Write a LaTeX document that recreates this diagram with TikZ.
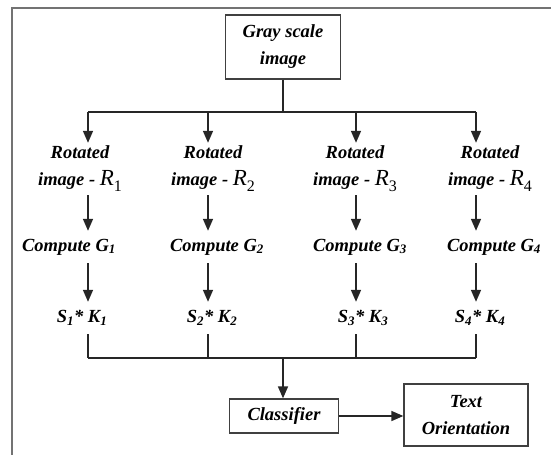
\documentclass[tikz,border=0pt]{standalone}
\usepackage{fontspec}
\setmainfont{Liberation Serif}
\usetikzlibrary{arrows.meta}

\tikzset{
  lbl/.style={font=\bfseries\itshape\fontsize{18.5}{27}\selectfont, inner sep=0pt, align=center},
  blk/.style={lbl, draw=black!75, line width=1.3pt},
  wire/.style={line width=1.6pt, black!85},
  con/.style={wire, -{Triangle[length=12pt,width=10pt]}},
}
\newcommand{\rotR}[1]{{\mdseries\fontsize{23}{23}\selectfont R}\raisebox{-6pt}{\mdseries\upshape\fontsize{16}{16}\selectfont #1}}

\begin{document}
\begin{tikzpicture}[x=1pt,y=1pt,yscale=-1]
\useasboundingbox (0,0) rectangle (551,455);

%Frame
\draw [black!55, line width=1.5pt] (551,8) -- (12,8) -- (12,455);

% Blocks
\node [blk, minimum width=115pt, minimum height=64pt] (gray) at (283,47) {Gray scale\\image};
\node [blk, minimum width=109pt, minimum height=34pt] (cls) at (284,416) {Classifier};
\node [blk, minimum width=124pt, minimum height=62pt] (orient) at (466,415) {Text\\Orientation};

% Text Node
\node [lbl, minimum height=52pt] (rot1) at (80,169) {Rotated\\image - \rotR{1}};
\node [lbl, minimum height=52pt] (rot2) at (213,169) {Rotated\\image - \rotR{2}};
\node [lbl, minimum height=52pt] (rot3) at (355,169) {Rotated\\image - \rotR{3}};
\node [lbl, minimum height=52pt] (rot4) at (490,169) {Rotated\\image - \rotR{4}};
% Text Node
\node [lbl, minimum height=32pt] (comp1) at (69,247) {Compute G\textsubscript{1}};
\node [lbl, minimum height=32pt] (comp2) at (217,247) {Compute G\textsubscript{2}};
\node [lbl, minimum height=32pt] (comp3) at (360,247) {Compute G\textsubscript{3}};
\node [lbl, minimum height=32pt] (comp4) at (494,247) {Compute G\textsubscript{4}};
% Text Node
\node [lbl, minimum height=32pt] (sk1) at (82,318) {S\textsubscript{1}* K\textsubscript{1}};
\node [lbl, minimum height=32pt] (sk2) at (212,318) {S\textsubscript{2}* K\textsubscript{2}};
\node [lbl, minimum height=32pt] (sk3) at (363,318) {S\textsubscript{3}* K\textsubscript{3}};
\node [lbl, minimum height=32pt] (sk4) at (480,318) {S\textsubscript{4}* K\textsubscript{4}};

% Branch points
\coordinate (c1) at (88,112);
\coordinate (c2) at (208,112);
\coordinate (c3) at (356,112);
\coordinate (c4) at (476,112);
\coordinate (bus) at (283,358);

%Straight Lines
\draw [wire] (gray.south) -- (gray.south |- c1);
\draw [wire] (c1) -- (c4);
\draw [con] (c1) -- (c1 |- rot1.north);
\draw [con] (c2) -- (c2 |- rot2.north);
\draw [con] (c3) -- (c3 |- rot3.north);
\draw [con] (c4) -- (c4 |- rot4.north);
%Straight Lines
\draw [con] (c1 |- rot1.south) -- (c1 |- comp1.north);
\draw [con] (c2 |- rot2.south) -- (c2 |- comp2.north);
\draw [con] (c3 |- rot3.south) -- (c3 |- comp3.north);
\draw [con] (c4 |- rot4.south) -- (c4 |- comp4.north);
%Straight Lines
\draw [con] (c1 |- comp1.south) -- (c1 |- sk1.north);
\draw [con] (c2 |- comp2.south) -- (c2 |- sk2.north);
\draw [con] (c3 |- comp3.south) -- (c3 |- sk3.north);
\draw [con] (c4 |- comp4.south) -- (c4 |- sk4.north);
%Straight Lines
\draw [wire] (c1 |- sk1.south) -- (c1 |- bus);
\draw [wire] (c2 |- sk2.south) -- (c2 |- bus);
\draw [wire] (c3 |- sk3.south) -- (c3 |- bus);
\draw [wire] (c4 |- sk4.south) -- (c4 |- bus);
\draw [wire] (c1 |- bus) -- (c4 |- bus);
\draw [con] (bus) -- (bus |- cls.north);
\draw [con] (cls.east) -- (orient.west |- cls.east);

\end{tikzpicture}
\end{document}
